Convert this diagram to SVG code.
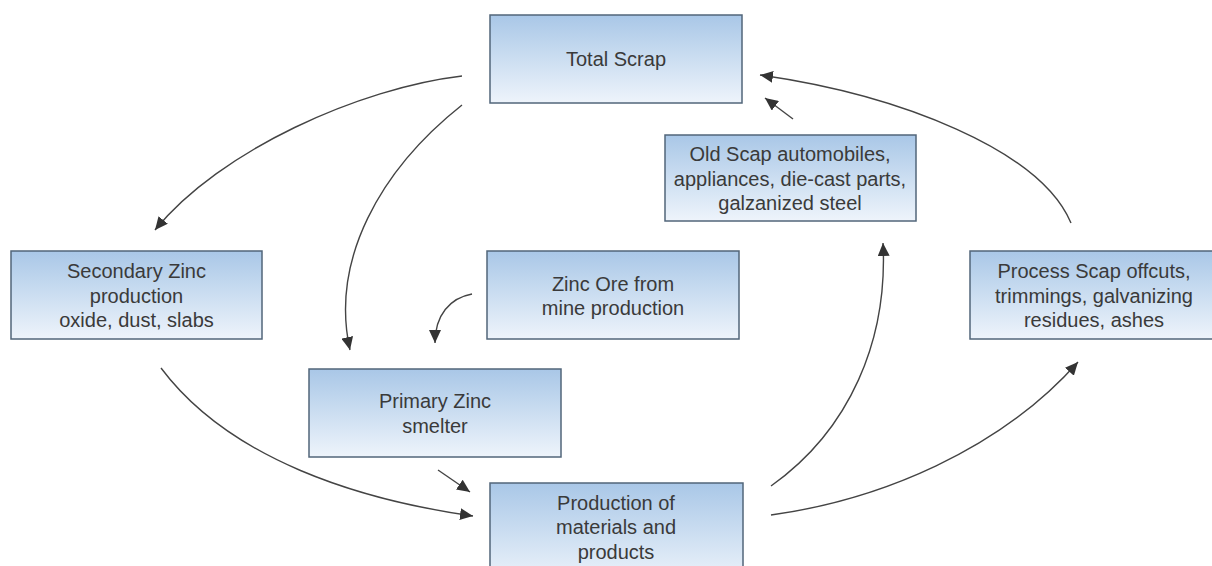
<svg xmlns="http://www.w3.org/2000/svg" width="1212" height="566" viewBox="0 0 1212 566">
<defs>
<linearGradient id="boxg" x1="0" y1="0" x2="0" y2="1">
<stop offset="0" stop-color="#a9c7e7"/>
<stop offset="0.55" stop-color="#cfe0f2"/>
<stop offset="1" stop-color="#eef4fb"/>
</linearGradient>
<marker id="ah" markerUnits="userSpaceOnUse" markerWidth="14" markerHeight="12" refX="13" refY="6" orient="auto">
<path d="M0,0 L13,6 L0,12 z" fill="#333"/>
</marker>
<style>
.box{fill:url(#boxg);stroke:#52667a;stroke-width:1.5}
.t{font-family:"Liberation Sans",Arial,sans-serif;font-size:20px;fill:#3a3a3a;text-anchor:middle}
.c{fill:none;stroke:#444;stroke-width:1.4;marker-end:url(#ah)}
</style>
</defs>
<rect width="1212" height="566" fill="#fff"/>
<g id="total-scrap">
<rect class="box" x="490" y="15" width="252" height="88"/>
<text class="t" x="616" y="66">Total Scrap</text>
</g>
<g id="old-scrap">
<rect class="box" x="665" y="135" width="251" height="86"/>
<text class="t" x="790" y="161">Old Scap automobiles,</text>
<text class="t" x="790" y="185.5">appliances, die-cast parts,</text>
<text class="t" x="790" y="210">galzanized steel</text>
</g>
<g id="secondary-zinc">
<rect class="box" x="11" y="251" width="251" height="88"/>
<text class="t" x="136.5" y="278">Secondary Zinc</text>
<text class="t" x="136.5" y="302.5">production</text>
<text class="t" x="136.5" y="327">oxide, dust, slabs</text>
</g>
<g id="zinc-ore">
<rect class="box" x="487" y="251" width="252" height="88"/>
<text class="t" x="613" y="290.5">Zinc Ore from</text>
<text class="t" x="613" y="315">mine production</text>
</g>
<g id="process-scrap">
<rect class="box" x="970" y="251" width="252" height="88"/>
<text class="t" x="1094" y="278">Process Scap offcuts,</text>
<text class="t" x="1094" y="302.5">trimmings, galvanizing</text>
<text class="t" x="1094" y="327">residues, ashes</text>
</g>
<g id="primary-zinc">
<rect class="box" x="309" y="369" width="252" height="88"/>
<text class="t" x="435" y="408">Primary Zinc</text>
<text class="t" x="435" y="432.5">smelter</text>
</g>
<g id="production">
<rect class="box" x="490" y="483" width="253" height="100"/>
<text class="t" x="616" y="509.5">Production of</text>
<text class="t" x="616" y="534">materials and</text>
<text class="t" x="616" y="558.5">products</text>
</g>
<g id="connectors">
<path class="c" d="M462,76 C360,88 220,150 155,230"/>
<path class="c" d="M462,105 C380,170 330,260 350,350"/>
<path class="c" d="M472,294 C450,298 435,315 435,343"/>
<path class="c" d="M438,470 L470,492"/>
<path class="c" d="M161,368 C230,460 360,500 473,516"/>
<path class="c" d="M771,486 C850,430 888,340 883,243"/>
<path class="c" d="M771,515 C880,500 1000,450 1078,362"/>
<path class="c" d="M1071,223 C1040,150 900,95 760,75"/>
<path class="c" d="M793,119 L765,98"/>
</g>
</svg>
